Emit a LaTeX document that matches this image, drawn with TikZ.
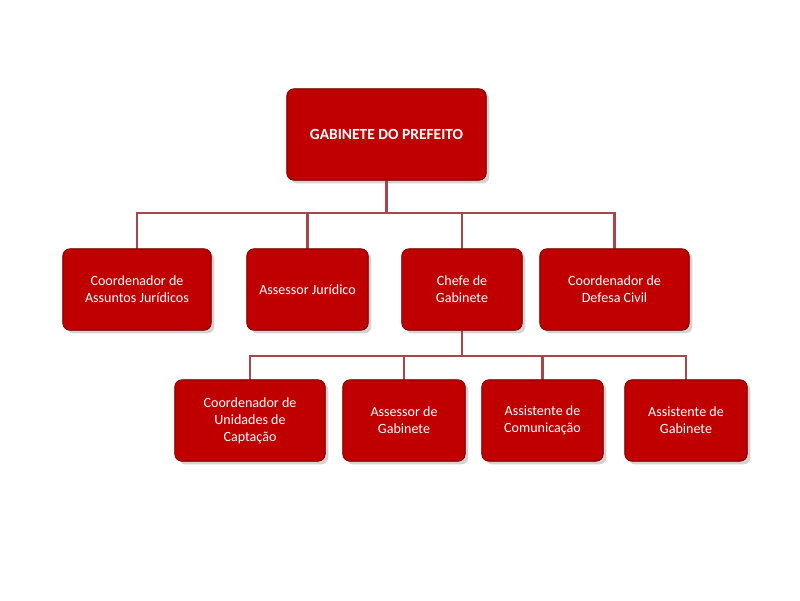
\documentclass[tikz,border=0pt]{standalone}
\usepackage{fontspec}
\setmainfont{Carlito}
\usetikzlibrary{shadows}
\definecolor{boxred}{HTML}{C00000}
\definecolor{boxedge}{HTML}{7F0000}
\definecolor{linkred}{HTML}{A5474B}

\begin{document}
\begin{tikzpicture}[x=0.025cm,y=-0.025cm]
    \tikzstyle{unit}=[draw=boxedge,fill=boxred,rounded corners=5pt,text=white,align=center,
        font=\fontsize{10}{12}\selectfont,inner sep=0pt,drop shadow={opacity=0.35}]
    \tikzstyle{link}=[draw=linkred,line width=1.6pt]
    \useasboundingbox (0,0) rectangle (800,600);

    % Top node
    \node[unit,minimum width=199*0.025cm,minimum height=91*0.025cm,font=\fontsize{11}{13}\selectfont\bfseries] (G) at (386.5,134.5) {GABINETE DO PREFEITO};

    % Second level
    \node[unit,minimum width=148*0.025cm,minimum height=81*0.025cm] (CJ) at (137,289.5) {Coordenador de\\Assuntos Jurídicos};
    \node[unit,minimum width=121*0.025cm,minimum height=81*0.025cm] (AJ) at (307.5,289.5) {Assessor Jurídico};
    \node[unit,minimum width=120*0.025cm,minimum height=81*0.025cm] (CG) at (462,289.5) {Chefe de\\Gabinete};
    \node[unit,minimum width=149*0.025cm,minimum height=81*0.025cm] (DC) at (614.5,289.5) {Coordenador de\\Defesa Civil};

    % Third level
    \node[unit,minimum width=150*0.025cm,minimum height=81*0.025cm] (UC) at (250,420.5) {Coordenador de\\Unidades de\\Captação};
    \node[unit,minimum width=122*0.025cm,minimum height=81*0.025cm] (AG) at (404,420.5) {Assessor de\\Gabinete};
    \node[unit,minimum width=121*0.025cm,minimum height=81*0.025cm] (AC) at (542.5,420.5) {Assistente de\\Comunicação};
    \node[unit,minimum width=122*0.025cm,minimum height=81*0.025cm] (SG) at (686,420.5) {Assistente de\\Gabinete};

    % Connect the top node with the second level
    \coordinate (b1) at (386.5,213);
    \draw[link] (G.south) -- (b1);
    \foreach \dest in {CJ,AJ,CG,DC}
        \draw[link] (b1) -| (\dest.north);

    % Connect the chief with the third level
    \coordinate (b2) at (462,356);
    \draw[link] (CG.south) -- (b2);
    \foreach \dest in {UC,AG,AC,SG}
        \draw[link] (b2) -| (\dest.north);

    % Redraw boxes above the links
    \foreach \n in {G,CJ,AJ,CG,DC,UC,AG,AC,SG}
        \draw[boxedge,rounded corners=5pt] (\n.south west) rectangle (\n.north east);
\end{tikzpicture}
\end{document}
